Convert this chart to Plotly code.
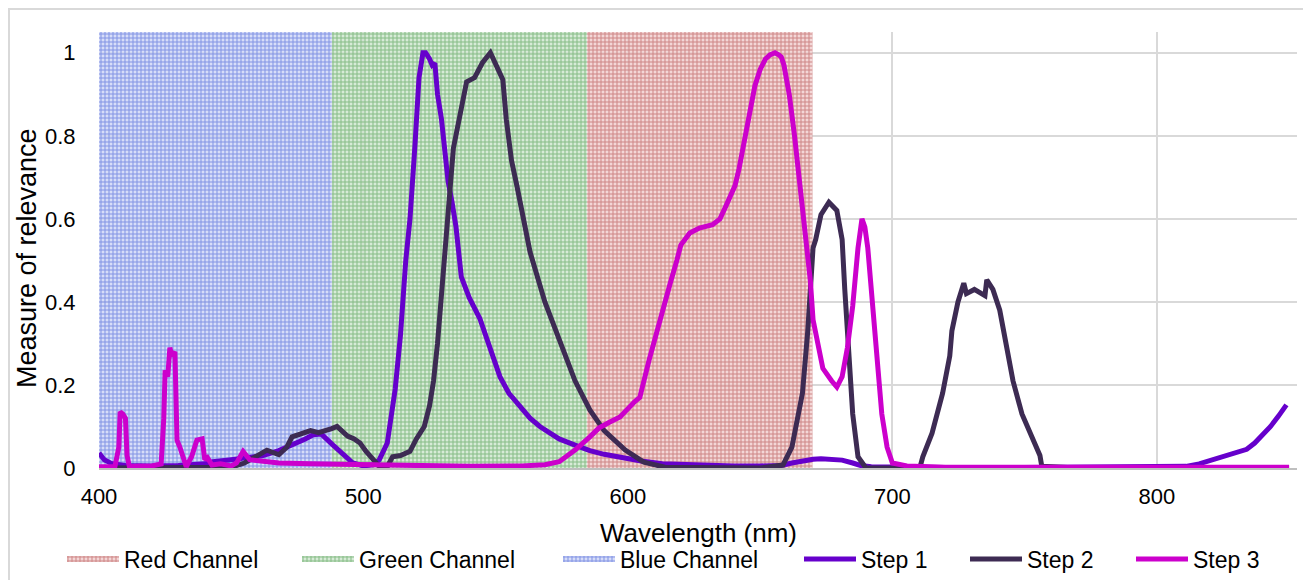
import plotly.graph_objects as go

# ---- channel bands (nm) ----
band_names = ["Red Channel", "Green Channel", "Blue Channel"]
band_start = [584.5, 488.0, 400.0]
band_end = [669.8, 584.5, 488.0]
band_fg = ["rgba(200,120,120,0.85)", "rgba(120,180,120,0.85)", "rgba(115,135,225,0.85)"]
band_bg = ["rgba(240,205,205,0.8)", "rgba(205,230,205,0.8)", "rgba(205,212,246,0.8)"]
band_top = 1.05

# ---- Step 1 ----
s1_x = [400, 402, 405, 410, 420, 430, 440, 443, 450, 455, 462, 468, 474, 478, 481, 484, 488.5, 492, 496,
        500, 504, 506, 509, 512, 514, 516, 517.6, 519.5, 521, 522.5, 523.5, 525, 526, 527, 528, 529.5, 531,
        532, 533.5, 535, 537, 540, 544, 548, 551.6, 555, 559, 563, 566.7, 570, 574, 580, 585.6, 591, 597,
        605, 613, 620, 630, 640, 650, 658, 662, 666, 670, 673, 677, 681, 685, 688, 692, 700, 720, 750, 780,
        800, 811, 816, 821, 826, 830, 834, 837, 840, 843, 846, 849]
s1_y = [0.036, 0.02, 0.01, 0.006, 0.005, 0.006, 0.01, 0.015, 0.02, 0.024, 0.03, 0.042, 0.058, 0.07, 0.08,
        0.082, 0.055, 0.035, 0.012, 0.005, 0.008, 0.02, 0.06, 0.19, 0.32, 0.5, 0.6, 0.78, 0.94, 1.0, 1.0,
        0.985, 0.97, 0.975, 0.9, 0.84, 0.76, 0.69, 0.64, 0.58, 0.46, 0.41, 0.36, 0.29, 0.22, 0.18, 0.15,
        0.12, 0.1, 0.085, 0.07, 0.055, 0.042, 0.033, 0.025, 0.017, 0.01, 0.008, 0.006, 0.005, 0.005, 0.006,
        0.012, 0.018, 0.021, 0.022, 0.021, 0.019, 0.012, 0.006, 0.003, 0.002, 0.001, 0.001, 0.001, 0.002,
        0.004, 0.01, 0.02, 0.028, 0.035, 0.045, 0.06, 0.08, 0.1, 0.125, 0.152]

# ---- Step 2 ----
s2_x = [400, 420, 440, 450, 455, 460, 463.5, 468, 471, 473, 477, 480, 483, 486, 488, 490, 492, 494, 496.5,
        498.7, 501, 503.6, 506, 509, 511, 514, 517.6, 520, 523, 525, 526.5, 528, 530, 532, 534, 536.5, 539,
        542, 545, 548, 550, 552.7, 554, 556, 558, 559.5, 563, 568.6, 574, 580, 585.6, 591, 599, 606, 614,
        630, 650, 658.6, 662, 666, 668, 670, 671, 673, 676, 679, 681, 682, 684, 685, 687, 690, 700, 710.5,
        711.5, 715, 719, 721.7, 722.5, 724.8, 727, 728, 731, 735, 735.7, 736.5, 738, 740.6, 743, 745.6,
        749, 753, 755.8, 756.5, 770, 800, 850]
s2_y = [0.0, 0.0, 0.0, 0.002, 0.012, 0.03, 0.043, 0.032, 0.05, 0.075, 0.085, 0.09, 0.085, 0.09, 0.095,
        0.1, 0.09, 0.077, 0.07, 0.06, 0.04, 0.02, 0.004, 0.003, 0.027, 0.03, 0.04, 0.07, 0.1, 0.15, 0.21,
        0.3, 0.45, 0.6, 0.77, 0.85, 0.93, 0.94, 0.976, 1.0, 0.975, 0.935, 0.84, 0.74, 0.68, 0.63, 0.52,
        0.4, 0.31, 0.21, 0.14, 0.09, 0.043, 0.014, 0.002, 0.0, 0.0, 0.007, 0.05, 0.18, 0.33, 0.53, 0.55,
        0.61, 0.64, 0.62, 0.55, 0.43, 0.24, 0.13, 0.027, 0.0, 0.0, 0.003, 0.027, 0.084, 0.18, 0.27, 0.33,
        0.4, 0.445, 0.42, 0.43, 0.415, 0.453, 0.445, 0.43, 0.38, 0.3, 0.21, 0.13, 0.067, 0.03, 0.004, 0.0,
        0.0, 0.0]

# ---- Step 3 ----
s3_x = [400, 406, 407.5, 408, 409, 410, 410.6, 411.5, 415, 420, 423.5, 424.5, 425, 426, 426.8, 427.5,
        428.7, 429.5, 430.6, 432, 433, 435, 437, 439, 440, 441, 442.7, 446, 450, 452, 454.5, 457, 462, 468,
        480, 490, 500, 511, 520, 540, 560, 568.6, 574, 580, 585.6, 589, 593, 597, 602.6, 604.5, 608, 612,
        616, 618.5, 620, 623.4, 627, 632, 634.8, 637, 640.5, 642, 644, 646, 648, 650, 652, 653.7, 655.6,
        657, 658, 659, 661, 663, 665, 666, 669, 670, 672, 673.7, 677, 679, 681, 683, 685, 687, 688.5,
        689.6, 690.7, 692, 693, 694.5, 696, 698, 700, 705.5, 720, 850]
s3_y = [0.003, 0.003, 0.05, 0.135, 0.13, 0.12, 0.03, 0.003, 0.004, 0.005, 0.01, 0.12, 0.235, 0.22, 0.29,
        0.27, 0.28, 0.067, 0.05, 0.02, 0.003, 0.027, 0.067, 0.07, 0.02, 0.025, 0.007, 0.01, 0.005, 0.012,
        0.04, 0.02, 0.015, 0.012, 0.01, 0.009, 0.007, 0.008, 0.005, 0.004, 0.005, 0.008, 0.015, 0.043,
        0.075, 0.096, 0.11, 0.123, 0.16, 0.17, 0.26, 0.357, 0.445, 0.5, 0.537, 0.566, 0.578, 0.586, 0.6,
        0.63, 0.68, 0.72, 0.79, 0.86, 0.92, 0.96, 0.985, 0.995, 1.0, 0.995, 0.99, 0.97, 0.9, 0.8, 0.69,
        0.62, 0.45, 0.357, 0.29, 0.24, 0.21, 0.195, 0.22, 0.29, 0.39, 0.53, 0.6, 0.58, 0.53, 0.43, 0.33,
        0.21, 0.13, 0.05, 0.012, 0.005, 0.002, 0.002]

step_names = ["Step 1", "Step 2", "Step 3"]
step_colors = ["#6600CC", "#3D2B53", "#CC00CC"]
steps_x = [s1_x, s2_x, s3_x]
steps_y = [s1_y, s2_y, s3_y]

x_ticks = [400, 500, 600, 700, 800]
y_ticks = [0, 0.2, 0.4, 0.6, 0.8, 1]
y_tick_text = ["0", "0.2", "0.4", "0.6", "0.8", "1"]
x_title = "Wavelength (nm)"
y_title = "Measure of relevance"

FONT = "Liberation Sans, Arial, sans-serif"
W, H = 1311, 580
ML, MR, MT, MB = 91, 22, 24, 120
PW, PH = W - ML - MR, H - MT - MB

# legend entry left positions (px in figure), one legend per entry
legend_left = [54, 289, 550, 791, 957, 1123]
legend_ids = ["legend", "legend2", "legend3", "legend4", "legend5", "legend6"]

fig = go.Figure()

k = 0
for name, a, b, fg, bg in zip(band_names, band_start, band_end, band_fg, band_bg):
    fig.add_trace(go.Scatter(
        x=[a, a, b, b, a], y=[0, band_top, band_top, 0, 0],
        mode="none", fill="toself", name=name,
        fillcolor=bg,
        fillpattern=dict(shape="+", size=4, solidity=0.45, fgcolor=fg, bgcolor=bg, fillmode="replace"),
        hoverinfo="skip", legend=legend_ids[k],
    ))
    k += 1

for name, xs, ys, c in zip(step_names, steps_x, steps_y, step_colors):
    fig.add_trace(go.Scatter(
        x=xs, y=ys, mode="lines", name=name,
        line=dict(color=c, width=5), legend=legend_ids[k],
    ))
    k += 1

leg_common = dict(
    orientation="h", xref="container", yref="container",
    xanchor="left", y=(H - 551) / H, yanchor="middle",
    font=dict(size=23, family=FONT, color="#000000"), itemwidth=52,
    bgcolor="rgba(0,0,0,0)",
)
legend_layout = {}
for lid, lx in zip(legend_ids, legend_left):
    legend_layout[lid] = dict(leg_common, x=lx / W)

fig.update_layout(
    width=W, height=H,
    paper_bgcolor="white", plot_bgcolor="white",
    margin=dict(l=ML, r=MR, t=MT, b=MB, autoexpand=False),
    font=dict(family=FONT, color="#000000"),
    showlegend=True,
    xaxis=dict(
        range=[400, 853], tickvals=x_ticks, ticks="",
        showgrid=True, gridcolor="#d9d9d9", gridwidth=1.5,
        showline=True, linecolor="#bfbfbf", linewidth=1.5, layer="below traces",
        zeroline=False, tickfont=dict(size=22), ticklabelstandoff=8,
    ),
    yaxis=dict(
        range=[0, band_top], tickvals=y_ticks, ticktext=y_tick_text,
        ticks="outside", ticklen=18, tickcolor="rgba(0,0,0,0)",
        showgrid=True, gridcolor="#d9d9d9", gridwidth=1.5,
        zeroline=False, showline=False, tickfont=dict(size=22),
    ),
    annotations=[
        dict(
            text=x_title, xref="paper", yref="paper", x=0.5, y=-(525 - (MT + PH)) / PH,
            xanchor="center", yanchor="middle", showarrow=False,
            font=dict(size=26, family=FONT, color="#000000"),
        ),
        dict(
            text=y_title, xref="paper", yref="paper", x=-(ML - 19) / PW, y=0.5 - 8 / PH,
            xanchor="center", yanchor="middle", showarrow=False, textangle=-90,
            font=dict(size=27, family=FONT, color="#000000"),
        ),
    ],
    shapes=[dict(
        type="rect", xref="paper", yref="paper",
        x0=-(ML - 1) / PW, x1=(PW + MR + 5) / PW, y0=-(MB + 5) / PH, y1=1 + (MT - 1) / PH,
        line=dict(color="#d9d9d9", width=2), fillcolor="rgba(0,0,0,0)", layer="below",
    )],
    **legend_layout,
)

fig.write_html("out.html")
